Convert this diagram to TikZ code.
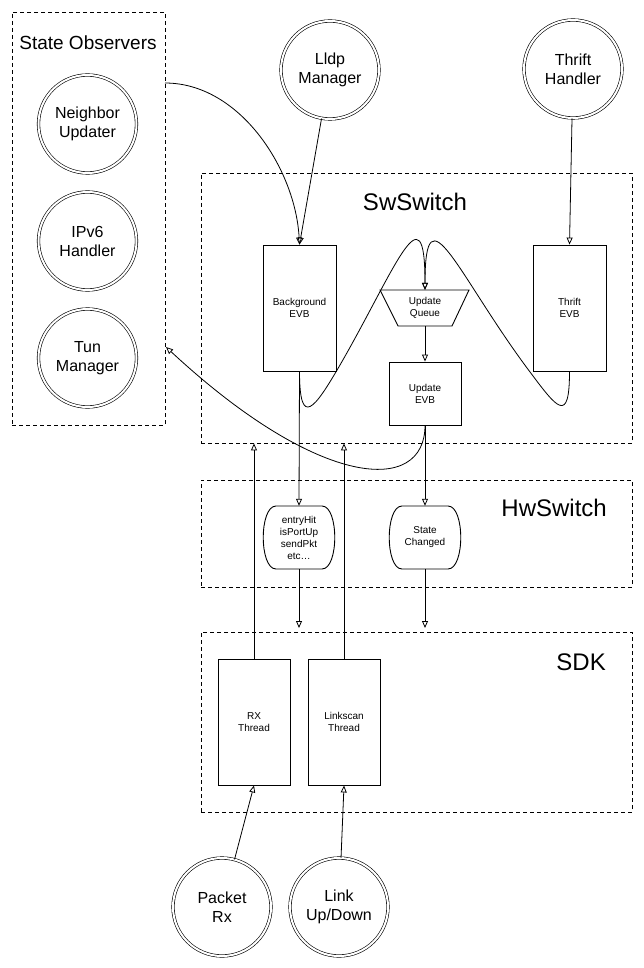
\documentclass[tikz,border=0pt]{standalone}
\usepackage{fontspec}
\setmainfont{Liberation Sans}
\usetikzlibrary{arrows.meta,calc}
\begin{document}
\begin{tikzpicture}[x=1pt,y=1pt,
  dbox/.style={draw, dash pattern=on 4pt off 3pt, line width=0.8pt, rectangle, inner sep=0pt},
  dcirc/.style={circle, draw, double, double distance=2pt, line width=0.6pt, minimum size=98pt, inner sep=0pt, align=center, font=\fontsize{16}{19}\selectfont},
  evb/.style={draw, rectangle, line width=0.9pt, align=center, font=\fontsize{10}{12}\selectfont, inner sep=0pt},
  small/.style={align=center, font=\fontsize{10}{12}\selectfont, inner sep=0pt},
  conn/.style={line width=0.8pt, -{Triangle[open,length=7pt,width=6pt]}},
  bigtitle/.style={font=\fontsize{24}{28}\selectfont, inner sep=0pt},
]
\useasboundingbox (0,0) rectangle (643,-968);

% containers
\node[dbox, minimum width=153pt, minimum height=413pt] (so) at (88.5,-218.5) {};
\node[dbox, minimum width=431pt, minimum height=270pt] (sw) at (416.5,-308) {};
\node[dbox, minimum width=431pt, minimum height=107pt] (hw) at (416.5,-533.5) {};
\node[dbox, minimum width=431pt, minimum height=180pt] (sdk) at (416.5,-722) {};

\node[font=\fontsize{19}{22}\selectfont, inner sep=0pt] (sotitle) at (88,-43) {State Observers};
\node[bigtitle] (swtitle) at (415,-202) {SwSwitch};
\node[bigtitle, anchor=east] (hwtitle) at (607,-508) {HwSwitch};
\node[bigtitle, anchor=east] (sdktitle) at (606,-662) {SDK};

% circles
\node[dcirc] (nu) at (87.5,-124) {Neighbor\\Updater};
\node[dcirc] (ipv6) at (87.5,-241) {IPv6\\Handler};
\node[dcirc] (tun) at (87.5,-358) {Tun\\Manager};
\node[dcirc] (lldp) at (330,-70) {Lldp\\Manager};
\node[dcirc] (thrift) at (573,-69) {Thrift\\Handler};
\node[dcirc] (prx) at (222,-907) {Packet\\Rx};
\node[dcirc] (link) at (339,-907) {Link\\Up/Down};

% SwSwitch boxes
\node[evb, minimum width=73pt, minimum height=126pt] (bg) at (299.5,-308) {Background\\EVB};
\node[evb, minimum width=73pt, minimum height=126pt] (tevb) at (569.5,-308) {Thrift\\EVB};
\node[small, minimum width=89pt, minimum height=36pt] (uq) at (425,-308) {Update\\Queue};
\draw[line width=0.9pt] ($(uq.center)+(-45,18)$) -- ($(uq.center)+(44,18)$) -- ($(uq.center)+(27,-18)$) -- ($(uq.center)+(-27,-18)$) -- cycle;
\node[evb, minimum width=72pt, minimum height=63pt] (uevb) at (425,-393.5) {Update\\EVB};

% HwSwitch shapes
\node[small, minimum width=72pt, minimum height=63pt] (hw1) at (299,-537.5) {entryHit\\isPortUp\\sendPkt\\etc\ldots};
\node[small, minimum width=72pt, minimum height=63pt] (hw2) at (425,-537.5) {State\\Changed};
\foreach \n in {hw1,hw2}{
  \draw[line width=0.9pt, shift={(\n.center)}] (-23,31.5) -- (23,31.5)
    .. controls (40,31.5) and (40,-31.5) .. (23,-31.5) -- (-23,-31.5)
    .. controls (-40,-31.5) and (-40,31.5) .. (-23,31.5) -- cycle;
}

% SDK boxes
\node[evb, minimum width=72pt, minimum height=126pt] (rx) at (254,-722) {RX\\Thread};
\node[evb, minimum width=72pt, minimum height=126pt] (ls) at (344,-722) {Linkscan\\Thread};

% free ends
\coordinate (soOut) at (165,-83);
\coordinate (soIn) at (166,-347);
\coordinate (hw1end) at (299,-628);
\coordinate (hw2end) at (425,-628);

% connectors
\draw[conn] (soOut) .. controls +(75,0) and +(-4,75) .. (bg.north);
\draw[conn] (lldp) -- (bg.north);
\draw[conn] (thrift) -- (tevb.north);
\draw[conn] (bg.south) .. controls (299.5,-430) and (315,-408) .. (340,-365)
  .. controls (395,-269.7) and (425,-185) .. (uq.north);
\draw[conn] (tevb.south) .. controls (569.5,-425) and (557,-408) .. (530,-372)
  .. controls (458,-276) and (425,-185) .. (uq.north);
\draw[conn] (uq.south) -- (uevb.north);
\draw[conn] (bg.south) -- (hw1.north);
\draw[conn] (uevb.south) -- (hw2.north);
\draw[conn] (uevb.south) .. controls (425,-495) and (320,-490) .. (soIn);
\draw[conn] (hw1.south) -- (hw1end);
\draw[conn] (hw2.south) -- (hw2end);
\draw[conn] (rx.north) -- (rx.north |- sw.south);
\draw[conn] (ls.north) -- (ls.north |- sw.south);
\draw[conn] (prx) -- (rx.south);
\draw[conn] (link) -- (ls.south);
\end{tikzpicture}
\end{document}
